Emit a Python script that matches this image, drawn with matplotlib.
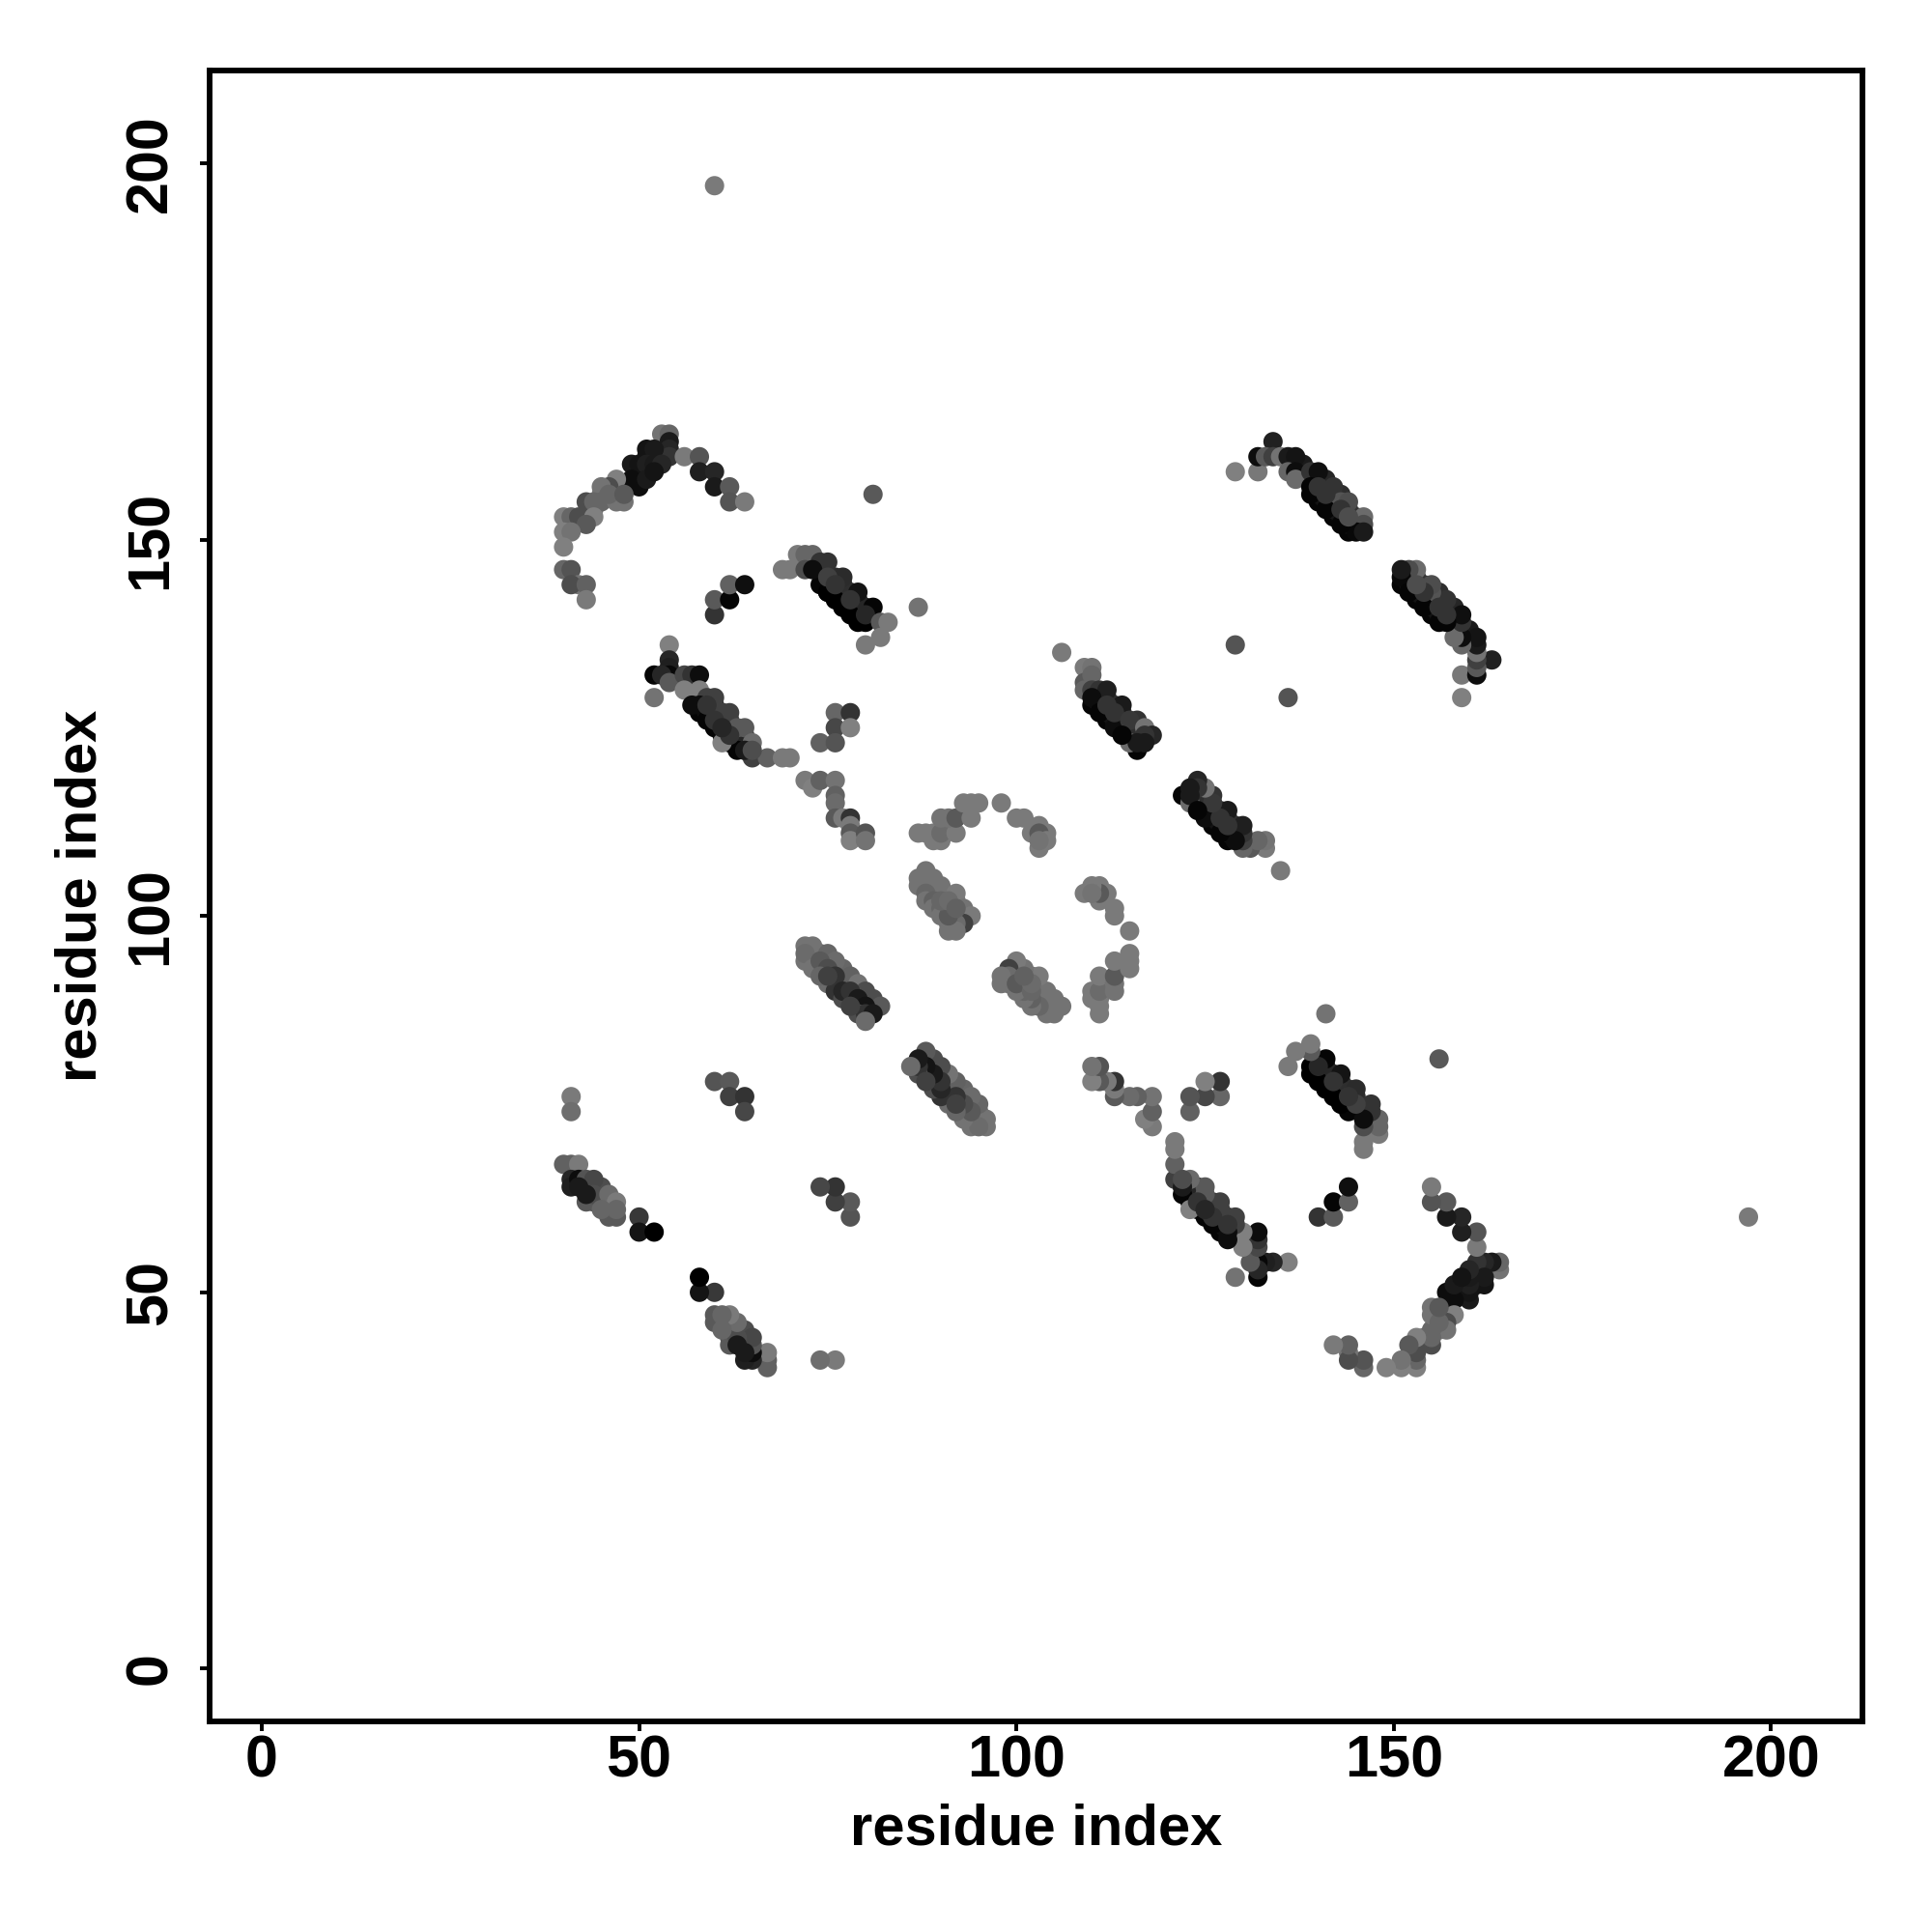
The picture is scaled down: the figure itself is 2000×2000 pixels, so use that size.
import matplotlib
matplotlib.use('Agg')
import matplotlib.pyplot as plt
import numpy as np

plt.rcParams['font.family'] = ['Liberation Sans', 'DejaVu Sans']
plt.rcParams['font.weight'] = 'bold'

# contacts above the diagonal: residue i, residue j, grey level
arc_i = [53,54,54,54,54,56,58,58,60,60,62,62,64,51,52,49,50,51,52,53,48,49,50,51,52,47,46,45,43,44,45,47,46,48,40,41,42,44,43,40,41,40,40,41,42,41,43,43]
arc_j = [164,164,163,162,161,161,161,159,159,157,157,155,155,162,162,160,160,160,160,160,157,158,157,158,159,158,157,157,155,155,155,155,156,156,153,153,153,153,152,151,151,149,146,146,144,144,144,142]
arc_g = [.45,.4,.1,.15,.2,.48,.33,.12,.15,.1,.35,.33,.48,.08,.1,.1,.08,.12,.1,.15,.15,.05,.05,.1,.08,.5,.3,.45,.3,.4,.4,.45,.4,.35,.5,.4,.3,.5,.35,.5,.45,.5,.4,.33,.45,.3,.38,.48]

small_i = [60,60,62,62,64,81,87,60,62,62,64,64,41,41,129,106]
small_j = [140,142,142,144,144,156,141,78,78,76,76,74,76,74,136,135]
small_g = [.2,.35,.02,.38,.06,.35,.45,.33,.35,.25,.2,.28,.48,.43,.33,.48]

hair_i = [69,70,71,72,73,72,74,75,77,79,81,74,76,78,80,73,75,77,79,75,76,78,80,82,83,82,80]
hair_j = [146,146,148,148,148,146,147,147,145,143,141,144,142,140,139,146,143,141,139,145,144,142,140,139,139,137,136]
hair_g = [.48,.48,.48,.4,.4,.3,.2,.2,.17,.08,.02,.02,0,0,0,.05,0,0,0,.25,.2,.2,.15,.35,.48,.48,.48]

low_i = [54,54,54,54,52,53,54,52,56,57,58,56,58,59,60,57,58,59,61,62,61,63,64,65,63,61,65,67,69,70,60,62,64,65,59,61]
low_j = [136,134,133,132,132,132,131,129,132,132,132,130,130,129,129,128,128,126,127,127,124,125,125,123,122,123,121,121,121,121,126,124,122,122,128,125]
low_g = [.5,.15,.12,.03,.02,.15,.35,.45,.28,.2,.05,.5,.5,.25,.25,.05,.05,.02,.25,.25,.02,.35,.35,.42,.02,.5,.25,.38,.48,.48,.2,.2,.1,.3,.2,.15]

turn_i = [76,78,76,78,74,76,72,73,74,76,76,76,76,77,78,78,78,78,80,80]
turn_j = [127,127,125,125,123,123,118,117,118,118,116,115,113,113,113,112,111,110,111,110]
turn_g = [.4,.2,.28,.5,.38,.33,.48,.5,.38,.45,.38,.42,.35,.48,.2,.48,.35,.5,.33,.45]

loop_i = [87,88,89,90,89,90,92,90,91,92,94,93,94,95,98,100,101,103,104,102,103,103,104,103]
loop_j = [111,111,110,110,111,111,111,113,113,113,113,115,115,115,115,113,113,112,111,111,111,109,110,110]
loop_g = [.48,.48,.48,.48,.48,.42,.48,.45,.45,.35,.48,.48,.48,.48,.48,.48,.48,.48,.48,.48,.35,.48,.48,.45]

mid_i = [88,87,87,89,90,88,92,88,89,89,90,93,92,94,93,92,91,92,90,91,90,91,92]
mid_j = [106,105,104,105,104,103,103,102,102,101,101,101,100,100,99,99,98,98,100,100,102,102,101]
mid_g = [.45,.45,.45,.45,.45,.4,.48,.45,.38,.45,.4,.45,.33,.48,.25,.42,.45,.45,.45,.35,.4,.42,.38]

side_i = [109,110,109,110,109,110,111,112,110,111,114,113,113,116,115,117,118,117,115,116,117,114,112]
side_j = [133,133,131,132,130,130,130,130,129,127,128,125,127,126,126,125,124,124,123,123,123,124,128]
side_g = [.48,.45,.35,.4,.4,.25,.2,.12,.05,.02,.1,.05,.2,.2,.22,.45,.15,.2,.42,.1,.1,.02,.2]

top_i = [129,132,134,132,133,134,135,136,137,136,137,137,139,140,142,143,144,146,146,145,146,143,141,139,139,140,141,143,144]
top_j = [159,159,163,161,161,161,161,161,161,159,159,158,159,159,157,155,155,153,152,151,151,152,154,156,157,157,156,154,153]
top_g = [.5,.47,.13,.05,.35,.25,.45,.1,.08,.4,.05,.42,.2,.06,.2,.33,.3,.42,.3,.03,.1,.02,.02,.02,.02,.2,.2,.2,.3]

pair_i = [40,41,42,41,41,42,43,44,42,43,44,46,47,46,47,47,45,43,50,50,52]
pair_j = [67,67,67,65,64,65,65,65,64,62,63,63,62,60,60,61,61,63,60,58,58]
pair_g = [.38,.38,.48,.15,.12,.05,.33,.28,.1,.35,.3,.42,.48,.35,.35,.4,.4,.1,.22,.08,0]

inner_i = [72,73,72,72,73,75,76,74,75,78,79,80,82,75,76,77,76,74,75,77,78,79,80,79,80,81,80,78]
inner_j = [96,96,94,95,93,95,94,94,93,92,91,90,88,91,90,89,92,92,92,90,90,89,88,87,87,87,86,88]
inner_g = [.45,.45,.45,.42,.45,.4,.42,.35,.3,.38,.45,.3,.35,.42,.2,.3,.2,.4,.25,.15,.2,.1,.08,.3,.2,.1,.42,.25]

far_i = [60]
far_j = [197]
far_g = [.48]

# contacts hidden inside the strands, only partly visible
fill_i = [140,142,144,140,141,142,143,144,145,141,142,143,145,142,144,141,143,138,
          75,77,75,76,77,78,79,77,79,76,78,80,77,79,
          58,60,62,59,60,61,62,63,64,60,61,62,63,64,60,62,64,
          112,110,116,111,112,113,114,115,111,112,113,114,115,116,112,113,114,116,
          76,78,79,75,77,76,74,75,76,77,78,79,80,81,77,81,
          88,89,89,90,91,91,93,92,
          43,44,44,45,45,46,46,45,
          53,53,50,51,51,52,46,45,48,44]
fill_j = [155,153,151,156,155,154,153,152,152,157,156,155,153,155,154,158,156,160,
          143,141,144,143,142,141,140,143,141,145,143,141,144,142,
          127,125,123,127,126,125,124,123,124,128,127,126,124,123,126,124,122,
          126,128,122,128,127,126,125,124,129,128,127,126,125,124,129,128,127,125,
          91,89,88,92,91,92,95,94,93,92,91,90,89,88,93,89,
          104,104,103,103,101,99,100,102,
          64,64,62,63,62,62,61,64,
          161,162,158,159,161,161,156,156,155,154]
fill_g = [.02,.02,.02,.08,.08,.08,.08,.08,.08,.18,.18,.18,.22,.18,.2,.15,.18,.1,
          .02,.02,.08,.08,.08,.08,.08,.18,.18,.18,.15,.12,.18,.15,
          .02,.02,.02,.08,.12,.12,.15,.18,.18,.15,.15,.2,.2,.15,.2,.2,.2,
          .02,.02,.02,.08,.08,.08,.08,.08,.12,.12,.18,.18,.18,.18,.15,.18,.18,.18,
          .2,.15,.15,.3,.25,.3,.4,.4,.35,.3,.3,.3,.25,.2,.4,.3,
          .45,.42,.42,.4,.38,.42,.4,.45,
          .15,.3,.3,.35,.35,.4,.4,.3,
          .1,.1,.1,.1,.1,.1,.45,.45,.45,.45]

ticks = [0, 50, 100, 150, 200]

res_i = fill_i + arc_i + small_i + hair_i + low_i + turn_i + loop_i + mid_i + side_i + top_i + pair_i + inner_i + far_i
res_j = fill_j + arc_j + small_j + hair_j + low_j + turn_j + loop_j + mid_j + side_j + top_j + pair_j + inner_j + far_j
grey = fill_g + arc_g + small_g + hair_g + low_g + turn_g + loop_g + mid_g + side_g + top_g + pair_g + inner_g + far_g

fig = plt.figure(figsize=(10, 10), dpi=200)
ax = fig.add_axes([217 / 2000, 1 - 1782 / 2000, 1711 / 2000, 1709 / 2000])

# the map is symmetric, so each contact is drawn on both sides of the diagonal
cols = np.array(grey + grey)
cols = np.column_stack([cols, cols, cols])
ax.scatter(res_i + res_j, res_j + res_i, s=7.2 ** 2, c=cols, linewidths=0)

ax.set_xlim(-6.9, 212.1)
ax.set_ylim(-7.0, 212.3)
ax.set_xticks(ticks)
ax.set_yticks(ticks)
ax.tick_params(length=3.6, width=1.4, labelsize=22)
ax.tick_params(axis='x', pad=1.4)
ax.tick_params(axis='y', pad=7.8)
for lab in ax.get_yticklabels():
    lab.set_rotation(90)
    lab.set_va('center')
for side in ax.spines.values():
    side.set_linewidth(2.1)

ax.set_xlabel('residue index', fontsize=21.5, fontweight='bold', labelpad=5)
ax.set_ylabel('residue index', fontsize=21.5, fontweight='bold', labelpad=6)

fig.savefig('out.png', dpi=200)
